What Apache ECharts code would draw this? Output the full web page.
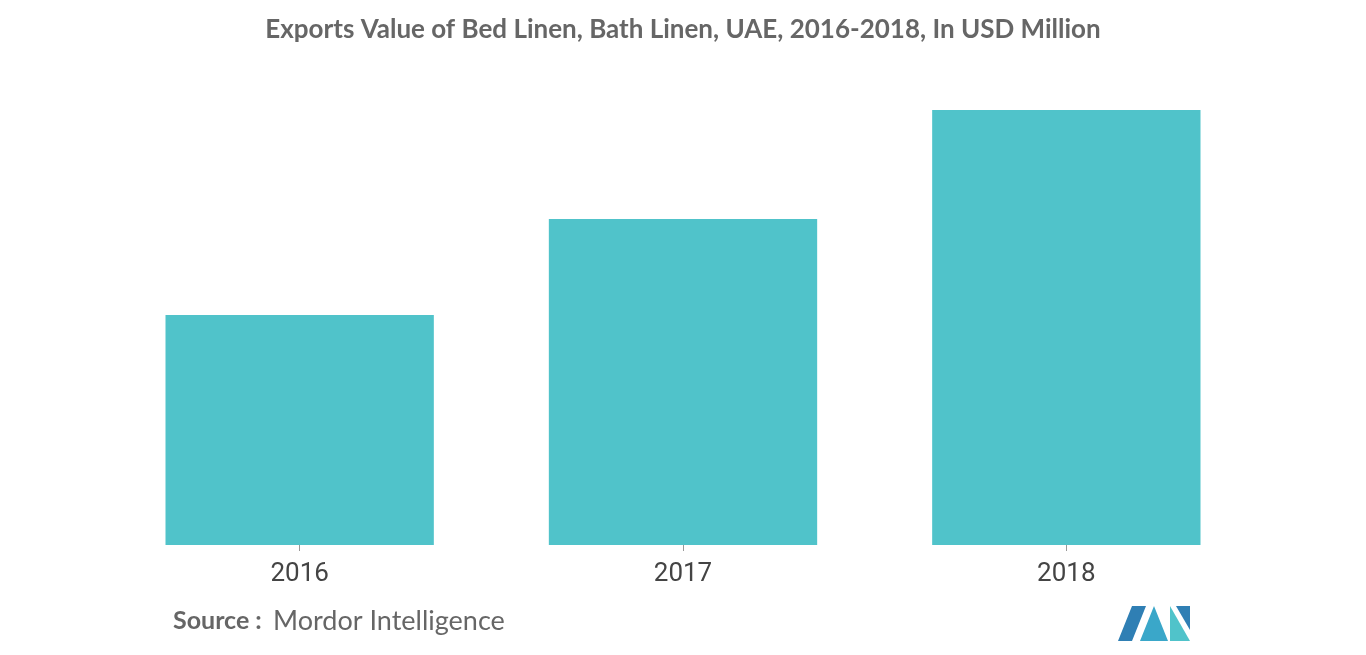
<!DOCTYPE html>
<html>
<head>
<meta charset="utf-8">
<script src="https://cdn.jsdelivr.net/npm/echarts@6/dist/echarts.min.js"></script>
<style>html,body{margin:0;padding:0;background:#fff}#chart{width:1366px;height:655px}</style>
</head>
<body>
<div id="chart"></div>
<script>
// values (relative scale)
var years = ['2016', '2017', '2018'];
var exportsValue = [230, 326, 435];

var chart = echarts.init(document.getElementById('chart'));

var option = {
    title: {
        text: 'Exports Value of Bed Linen, Bath Linen, UAE, 2016-2018, In USD Million',
        left: 'center',
        top: 12,
        textStyle: { fontFamily: 'Lato', fontSize: 26, fontWeight: 'bold', color: '#666' }
    },
    grid: { left: 108, right: 108, top: 45, height: 500 },
    xAxis: {
        type: 'category',
        data: years,
        axisLine: { show: true, lineStyle: { color: '#999', opacity: 0 } },
        axisTick: { show: true, alignWithLabel: true, length: 6, lineStyle: { color: '#999' } },
        axisLabel: { fontFamily: 'Roboto', fontSize: 26, color: '#444', margin: 16 }
    },
    yAxis: { type: 'value', min: 0, max: 500, show: false, splitLine: { show: false } },
    series: [{
        type: 'bar',
        data: exportsValue,
        barWidth: '70%',
        itemStyle: { color: '#50c3ca' }
    }],
    graphic: [
        { type: 'text', left: 173, top: 608, style: { text: 'Source :', font: 'bold 25px Lato', fill: '#666' } },
        { type: 'text', left: 273, top: 608, style: { text: 'Mordor Intelligence', font: '27px Lato', fill: '#666' } },
        { type: 'polygon', shape: { points: [[1118, 641], [1132, 606], [1146, 606], [1132, 641]] }, style: { fill: '#2f7fb4' } },
        { type: 'polygon', shape: { points: [[1140, 641], [1154, 606], [1168, 641]] }, style: { fill: '#3aa7c9' } },
        { type: 'polygon', shape: { points: [[1170, 641], [1170, 606], [1190, 641]] }, style: { fill: '#50c3ca' } },
        { type: 'polygon', shape: { points: [[1176, 606], [1190, 606], [1190, 630]] }, style: { fill: '#2f7fb4' } }
    ]
};

chart.setOption(option);
</script>
</body>
</html>
